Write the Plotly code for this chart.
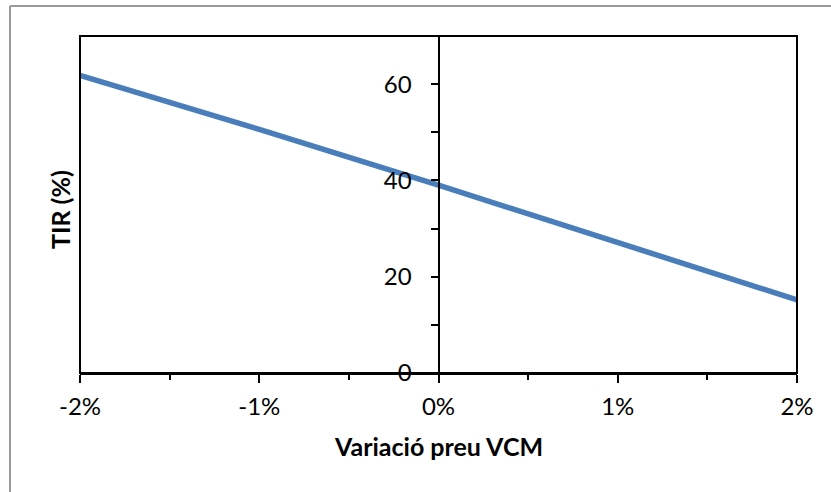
import plotly.graph_objects as go

# Data
variacio = [-0.02, -0.01, 0.0, 0.01, 0.02]
tir = [61.8, 50.6, 39.0, 27.2, 15.2]
y_ticks = [0, 20, 40, 60]
x_ticks = [-0.02, -0.01, 0.0, 0.01, 0.02]
x_tick_labels = ["-2%", "-1%", "0%", "1%", "2%"]

W, H = 831, 492
L, T = 80, 36
R = W - 797
B = H - 373
pw, ph = W - L - R, H - T - B


def px_x(x):
    return (x - L) / pw


def px_y(y):
    return (T + ph - y) / ph


font_family = "Lato, Open Sans, sans-serif"

fig = go.Figure()
fig.add_trace(go.Scatter(
    x=variacio, y=tir, mode="lines",
    line=dict(color="#4A7EBB", width=5.5),
    hoverinfo="skip", showlegend=False,
))

fig.update_layout(
    width=W, height=H,
    margin=dict(l=L, r=R, t=T, b=B),
    paper_bgcolor="white", plot_bgcolor="white",
    font=dict(family=font_family, color="black", size=24),
    showlegend=False,
    xaxis=dict(
        range=[-0.02, 0.02], tickvals=x_ticks, ticktext=x_tick_labels,
        showgrid=False, zeroline=False,
        showline=True, linecolor="black", linewidth=2,
        ticks="outside", ticklen=8, tickwidth=2, tickcolor="black",
        minor=dict(ticks="outside", ticklen=5, tickwidth=2, tickcolor="black", dtick=0.005, tick0=0),
        tickfont=dict(size=24, family=font_family),
        ticklabelstandoff=3,
    ),
    yaxis=dict(
        range=[0, 70], tickvals=y_ticks,
        showgrid=False, zeroline=False,
        anchor="free", position=0.5,
        showline=True, linecolor="black", linewidth=2,
        ticks="outside", ticklen=7, tickwidth=2, tickcolor="black",
        minor=dict(ticks="outside", ticklen=7, tickwidth=2, tickcolor="black", dtick=10, tick0=0),
        tickfont=dict(size=24, family=font_family),
        ticklabelstandoff=14,
    ),
    shapes=[
        # plot area frame
        dict(type="rect", xref="paper", yref="paper", x0=0, x1=1, y0=0, y1=1,
             line=dict(color="black", width=2), layer="above"),
        # outer chart border (top and left edges visible)
        dict(type="line", xref="paper", yref="paper",
             x0=px_x(10), x1=px_x(831), y0=px_y(6), y1=px_y(6),
             line=dict(color="#999999", width=2), layer="above"),
        dict(type="line", xref="paper", yref="paper",
             x0=px_x(10), x1=px_x(10), y0=px_y(6), y1=px_y(492),
             line=dict(color="#999999", width=2), layer="above"),
    ],
    annotations=[
        dict(text="<b>Variació preu VCM</b>", xref="paper", yref="paper",
             x=0.5, y=px_y(446), xanchor="center", yanchor="middle",
             showarrow=False, font=dict(size=25, family=font_family)),
        dict(text="<b>TIR (%)</b>", xref="paper", yref="paper",
             x=px_x(60), y=px_y(210), xanchor="center", yanchor="middle",
             textangle=-90, showarrow=False, font=dict(size=25, family=font_family)),
    ],
)

fig.write_html(
    "out.html",
    config={"displayModeBar": False},
    post_script="document.body.style.margin='0px';document.body.style.overflow='hidden';",
)
